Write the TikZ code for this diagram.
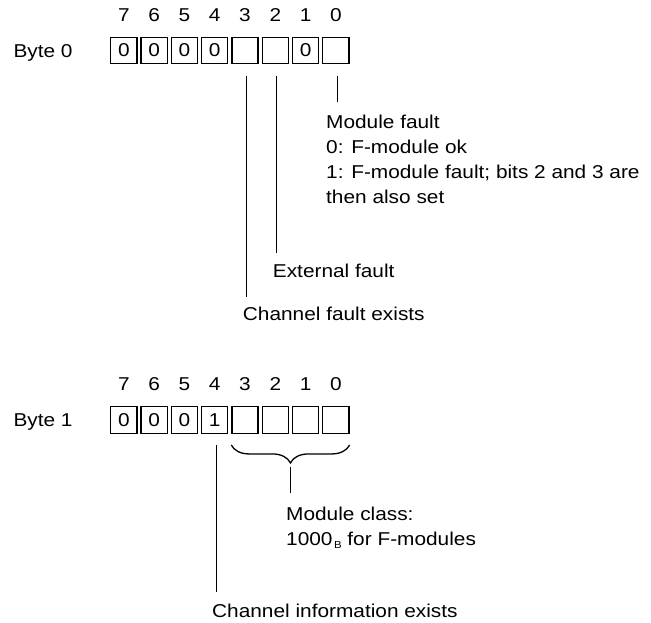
\documentclass[tikz,border=0pt]{standalone}
\usepackage{fontspec}
\setmainfont{Liberation Sans}[FakeStretch=1.12]
\usetikzlibrary{calc,decorations.pathreplacing}

\begin{document}
\begin{tikzpicture}[x=1pt,y=1pt,font=\fontsize{18.6}{24.9}\selectfont,
    cellbox/.style={draw,line width=1.3pt,minimum width=26.2pt,minimum height=26.4pt,inner sep=0pt},
    bitno/.style={anchor=base,inner sep=0pt},
    bytelbl/.style={anchor=base west,inner sep=0pt},
    note/.style={anchor=north west,inner sep=0pt,align=left},
    leadline/.style={line width=1.3pt}]
    \useasboundingbox (0,0) rectangle (651,622);
    % Byte 0
    \node[bytelbl] (byte0) at (13.3,564.7) {Byte 0};
    \node[cellbox] (c07) at (123.8,571.5) {0}; \node[bitno] (n07) at (123.8,600.3) {7};
    \node[cellbox] (c06) at (154.1,571.5) {0}; \node[bitno] (n06) at (154.1,600.3) {6};
    \node[cellbox] (c05) at (184.4,571.5) {0}; \node[bitno] (n05) at (184.4,600.3) {5};
    \node[cellbox] (c04) at (214.7,571.5) {0}; \node[bitno] (n04) at (214.7,600.3) {4};
    \node[cellbox] (c03) at (245.0,571.5) {};  \node[bitno] (n03) at (245.0,600.3) {3};
    \node[cellbox] (c02) at (275.3,571.5) {};  \node[bitno] (n02) at (275.3,600.3) {2};
    \node[cellbox] (c01) at (305.6,571.5) {0}; \node[bitno] (n01) at (305.6,600.3) {1};
    \node[cellbox] (c00) at (335.9,571.5) {};  \node[bitno] (n00) at (335.9,600.3) {0};
    \node[note] (modfault) at (326,507) {Module fault\\0: F-module ok\\1: F-module fault; bits 2 and 3 are\\then also set};
    \node[note] (extfault) at (272.7,358) {External fault};
    \node[note] (chfault) at (242.7,315.3) {Channel fault exists};
    \draw[leadline,shorten <=11.5pt,shorten >=13.3pt] ([xshift=1.5pt]c00.south) -- ([xshift=1.5pt]c00.south |- modfault.north);
    \draw[leadline,shorten <=11.5pt,shorten >=11pt] ([xshift=1.5pt]c02.south) -- ([xshift=1.5pt]c02.south |- extfault.north);
    \draw[leadline,shorten <=11.5pt,shorten >=9.7pt] ([xshift=1.5pt]c03.south) -- ([xshift=1.5pt]c03.south |- chfault.north);
    % Byte 1
    \node[bytelbl] (byte1) at (13.3,195.4) {Byte 1};
    \node[cellbox] (c17) at (123.8,202) {0}; \node[bitno] (n17) at (123.8,231) {7};
    \node[cellbox] (c16) at (154.1,202) {0}; \node[bitno] (n16) at (154.1,231) {6};
    \node[cellbox] (c15) at (184.4,202) {0}; \node[bitno] (n15) at (184.4,231) {5};
    \node[cellbox] (c14) at (214.7,202) {1}; \node[bitno] (n14) at (214.7,231) {4};
    \node[cellbox] (c13) at (245.0,202) {};  \node[bitno] (n13) at (245.0,231) {3};
    \node[cellbox] (c12) at (275.3,202) {};  \node[bitno] (n12) at (275.3,231) {2};
    \node[cellbox] (c11) at (305.6,202) {};  \node[bitno] (n11) at (305.6,231) {1};
    \node[cellbox] (c10) at (335.9,202) {};  \node[bitno] (n10) at (335.9,231) {0};
    \node[note] (modclass) at (286,115.3) {Module class:\\1000\hspace{1.5pt}\raisebox{-3pt}{\fontsize{10.2}{10}\selectfont B} for F-modules};
    \node[note] (chinfo) at (212,18.6) {Channel information exists};
    \draw[leadline,decorate,decoration={brace,mirror,amplitude=18pt}] ([yshift=-11.1pt]c13.south west) -- ([yshift=-11.1pt]c10.south east);
    \coordinate (brtip) at ($(c13.south west)!.5!(c10.south east)+(0,-29.1)$);
    \draw[leadline,shorten <=4pt,shorten >=13.7pt] (brtip) -- (brtip |- modclass.north);
    \draw[leadline,shorten <=11.1pt,shorten >=11.4pt] ([xshift=1.5pt]c14.south) -- ([xshift=1.5pt]c14.south |- chinfo.north);
  \end{tikzpicture}
\end{document}
